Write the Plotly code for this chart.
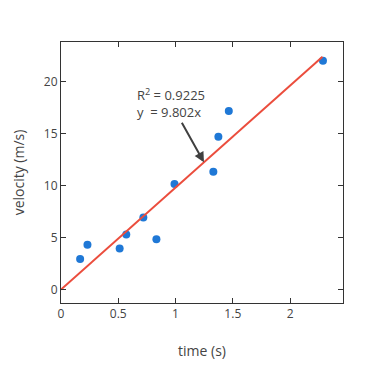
import plotly.graph_objects as go

time_s = [0.167, 0.231, 0.512, 0.570, 0.719, 0.833, 0.991, 1.330, 1.374, 1.465, 2.287]
velocity = [2.92, 4.30, 3.94, 5.29, 6.92, 4.84, 10.13, 11.32, 14.68, 17.15, 21.99]
slope = 9.802
r2 = 0.9225
fit_x = [0, 2.283]
fit_y = [slope * v for v in fit_x]

fig = go.Figure()
fig.add_trace(go.Scatter(x=time_s, y=velocity, mode="markers",
                         marker=dict(color="#1f78d6", size=8), showlegend=False))
fig.add_trace(go.Scatter(x=fit_x, y=fit_y, mode="lines",
                         line=dict(color="#eb4d3d", width=2), showlegend=False))

fig.add_annotation(x=1.248, y=slope * 1.248, xref="x", yref="y",
                   text=f"R<sup>2</sup> = {r2}<br>y&nbsp; = {slope}x",
                   showarrow=True, ax=-33, ay=-59, arrowhead=2, arrowsize=1,
                   arrowwidth=2, arrowcolor="#404040", align="left",
                   font=dict(size=13, color="#444"))

axis_common = dict(showgrid=False, zeroline=False, showline=True, linecolor="#333",
                   linewidth=1, mirror="ticks", ticks="inside", ticklen=5,
                   tickcolor="#333", tickfont=dict(size=12, color="#444"))
fig.update_xaxes(range=[0, 2.462], tickvals=[0, 0.5, 1, 1.5, 2],
                 ticktext=["0", "0.5", "1", "1.5", "2"],
                 title=dict(text="time (s)", font=dict(size=14, color="#444"), standoff=24),
                 **axis_common)
fig.update_yaxes(range=[-1.3, 23.79], tickvals=[0, 5, 10, 15, 20],
                 title=dict(text="velocity (m/s)", font=dict(size=14, color="#444")),
                 **axis_common)
fig.update_layout(width=366, height=366,
                  margin=dict(l=53, r=31, t=34, b=71, autoexpand=False),
                  paper_bgcolor="white", plot_bgcolor="white",
                  font=dict(family="Open Sans, verdana, arial, sans-serif", color="#444"))
fig.write_html("out.html")
